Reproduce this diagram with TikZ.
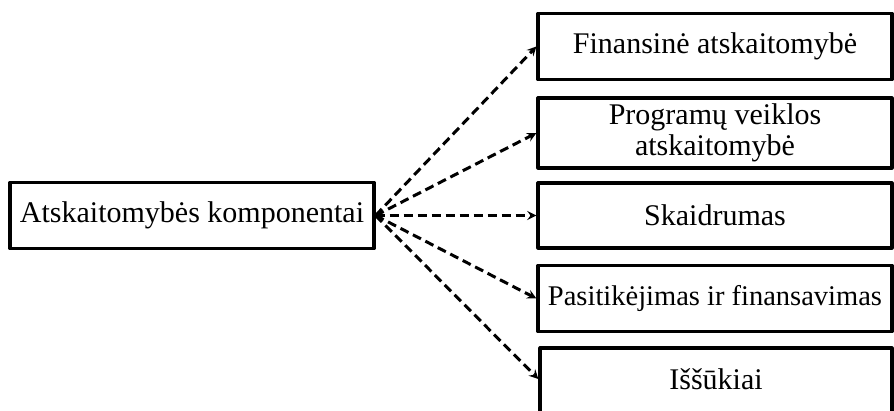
\documentclass[tikz,border=0pt]{standalone}
\usepackage{fontspec}
\setmainfont{Liberation Serif}
\begin{document}
\begin{tikzpicture}[x=1pt,y=-1pt,line join=round,>=stealth,font=\fontsize{30}{31}\selectfont]
			\tikzset{box/.style={draw,line width=3.2pt,minimum height=66pt,inner sep=0pt,align=center},
				link/.style={->,line width=3pt,dash pattern=on 9pt off 5pt}}
			% page edge cuts the last box, as in the source
			\clip (0,0) rectangle (894,411);
			\node[box,minimum width=364pt] (komp) at (192,215.5) {Atskaitomybės komponentai};
			\node[box,minimum width=354pt] (fin) at (715,46.5) {Finansinė atskaitomybė};
			\node[box,minimum width=354pt,minimum height=70pt] (prog) at (715,133) {Programų veiklos\\atskaitomybė};
			\node[box,minimum width=354pt,minimum height=65pt] (skaid) at (715,215.5) {Skaidrumas};
			\node[box,minimum width=354pt,font=\fontsize{28.5}{31}\selectfont] (pasit) at (715,298.5) {Pasitikėjimas ir finansavimas};
			\node[box,minimum width=352pt,minimum height=80pt] (issuk) at (716,388) {};
			\node (issukt) at (716,379) {Iššūkiai};
			\foreach \n in {fin,prog,skaid,pasit}{
					\draw[link] (komp.east) -- (\n.west);
				}
			\draw[link] (komp.east) -- (issuk.west |- issukt);
		\end{tikzpicture}
\end{document}
